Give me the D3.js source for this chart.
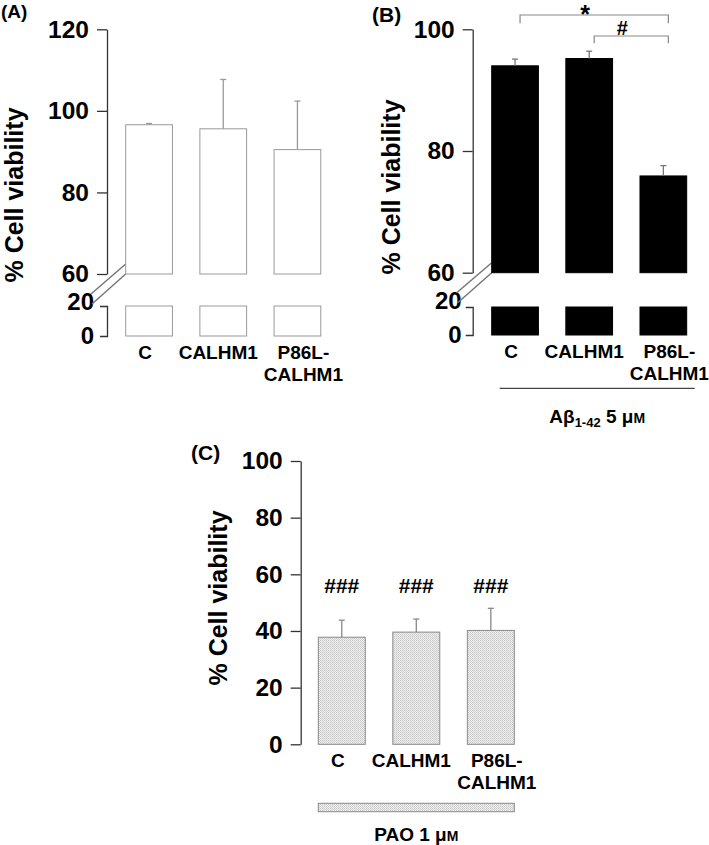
<!DOCTYPE html>
<meta charset="utf-8">
<style>
body { margin: 0; background: #fff; }
svg text { font-family: "Liberation Sans", Arial, sans-serif; font-weight: bold; fill: #000; }
</style>
<svg width="709" height="845"></svg>
<script src="https://cdnjs.cloudflare.com/ajax/libs/d3/7.8.5/d3.min.js"></script>
<script>

// groups and values
var categories = ["C", "CALHM1", "P86L-CALHM1"];
var labelLines = [["C"], ["CALHM1"], ["P86L-", "CALHM1"]];

var meansA = [96.6, 95.6, 90.5];
var sdA = [0.3, 12.1, 11.9];
var meansB = [94.0, 95.2, 75.9];
var sdB = [1.1, 1.2, 1.7];
var meansC = [37.8, 39.6, 40.2];
var sdC = [6.0, 4.6, 7.8];

var ticksA = [60, 80, 100, 120];
var ticksB = [60, 80, 100];
var ticksC = [0, 20, 40, 60, 80, 100];
var lowerTicks = [0, 20];

var svg = d3.select("svg");

// dotted fill for panel C
var defs = svg.append("defs");
var pat = defs.append("pattern")
    .attr("id", "dots")
    .attr("width", 2).attr("height", 2)
    .attr("patternUnits", "userSpaceOnUse");
pat.append("rect").attr("width", 2).attr("height", 2).attr("fill", "#efefef");
pat.append("rect").attr("width", 1).attr("height", 1).attr("fill", "#c6c6c6");
pat.append("rect").attr("x", 1).attr("y", 1).attr("width", 1).attr("height", 1).attr("fill", "#d2d2d2");

var labelDx = [-4, -5, 6];

function styleAxis(g, size) {
  g.attr("font-size", null).attr("font-family", null);
  g.selectAll("path, line").attr("stroke", "#333").attr("stroke-width", 1.3);
  g.selectAll("text").style("font-size", size + "px").attr("fill", "#000");
}

function drawPanel(p) {
  var x = d3.scaleBand()
      .domain(categories)
      .range(p.band)
      .paddingInner(0.37)
      .paddingOuter(0);

  var y = d3.scaleLinear().domain(p.domain).range(p.range);
  var base = p.domain[0];

  var g = svg.append("g");

  // main axis
  g.append("g")
      .attr("transform", "translate(" + p.axisX + ",0)")
      .call(d3.axisLeft(y).tickValues(p.ticks).tickSize(10).tickSizeOuter(0).tickPadding(8).tickFormat(d3.format("d")))
      .call(styleAxis, 24.5);

  var bottom = y(base);

  // lower segment for broken axes
  if (p.lower) {
    var yl = d3.scaleLinear().domain(p.lower.domain).range(p.lower.range);
    bottom = yl(0);
    var la = g.append("g")
        .attr("transform", "translate(" + p.axisX + ",0)")
        .call(d3.axisLeft(yl).tickValues(lowerTicks).tickSizeInner(0).tickSizeOuter(7).tickPadding(p.lower.pad).tickFormat(d3.format("d")))
        .call(styleAxis, 24);
    // the "20" sits just under the break
    la.selectAll(".tick text")
        .attr("y", function(d) { return d == 20 ? p.breakLabelY - yl(20) : 0; })
        .attr("dy", function(d) { return d == 20 ? 0 : "0.32em"; });

    g.selectAll(".lowbar")
      .data(categories)
      .enter().append("rect")
        .attr("x", function(d) { return x(d); })
        .attr("width", x.bandwidth())
        .attr("y", yl(20))
        .attr("height", yl(0) - yl(20))
        .attr("fill", p.fill)
        .attr("stroke", p.stroke)
        .attr("stroke-width", 1);

    // break marks
    var x0 = x(categories[0]);
    [[30, 0], [20, -10]].forEach(function(o, i) {
      g.append("line")
          .attr("x1", p.axisX - 15 - i).attr("y1", y(base) + o[0])
          .attr("x2", x0).attr("y2", y(base) + o[1])
          .attr("stroke", "#777")
          .attr("stroke-width", 1.5);
    });
  }

  // bars
  g.selectAll(".bar")
    .data(p.means)
    .enter().append("rect")
      .attr("x", function(d, i) { return x(categories[i]); })
      .attr("width", x.bandwidth())
      .attr("y", function(d) { return y(d); })
      .attr("height", function(d) { return y(base) - y(d); })
      .attr("fill", p.fill)
      .attr("stroke", p.stroke)
      .attr("stroke-width", 1);

  // error bars (upper only)
  p.means.forEach(function(m, i) {
    var cx = x(categories[i]) + x.bandwidth() / 2;
    var top = y(m + p.sds[i]);
    g.append("line")
        .attr("x1", cx).attr("x2", cx)
        .attr("y1", y(m)).attr("y2", top)
        .attr("stroke", p.errColor).attr("stroke-width", 1.3);
    g.append("line")
        .attr("x1", cx - 3).attr("x2", cx + 3)
        .attr("y1", top).attr("y2", top)
        .attr("stroke", p.errColor).attr("stroke-width", 1.3);
  });

  // category labels
  labelLines.forEach(function(lines, i) {
    var t = g.append("text")
        .attr("text-anchor", "middle")
        .style("font-size", "19px");
    lines.forEach(function(s, j) {
      t.append("tspan")
          .attr("x", x(categories[i]) + x.bandwidth() / 2 + labelDx[i])
          .attr("y", bottom + 22.5 + j * 22)
          .text(s);
    });
  });

  // y axis title
  g.append("text")
      .attr("transform", "translate(" + p.titleX + "," + p.titleY + ") rotate(-90)")
      .attr("text-anchor", "middle")
      .style("font-size", "25px")
      .text("% Cell viability");

  // panel letter
  g.append("text")
      .attr("x", p.letterPos[0])
      .attr("y", p.letterPos[1])
      .style("font-size", p.letterSize + "px")
      .text(p.letter);

  return { x: x, y: y, g: g };
}

var A = drawPanel({
  means: meansA, sds: sdA, ticks: ticksA,
  domain: [60, 120], range: [274, 29.3],
  lower: { domain: [0, 20], range: [336, 306], pad: 13 }, breakLabelY: 309,
  axisX: 107, band: [125.7, 320.8],
  fill: "#fff", stroke: "#999", errColor: "#999",
  titleX: 23, titleY: 195, letter: "(A)", letterPos: [1, 18], letterSize: 19
});

var B = drawPanel({
  means: meansB, sds: sdB, ticks: ticksB,
  domain: [60, 100], range: [272.7, 29.3],
  lower: { domain: [0, 20], range: [335, 307], pad: 11 }, breakLabelY: 308.5,
  axisX: 472.7, band: [491.7, 686.7],
  fill: "#000", stroke: "#000", errColor: "#777",
  titleX: 400, titleY: 187, letter: "(B)", letterPos: [372, 22], letterSize: 21
});

var C = drawPanel({
  means: meansC, sds: sdC, ticks: ticksC,
  domain: [0, 100], range: [744.3, 461],
  axisX: 300.7, band: [318.3, 514.3],
  fill: "url(#dots)", stroke: "#888", errColor: "#888",
  titleX: 227, titleY: 598, letter: "(C)", letterPos: [191, 460], letterSize: 21
});

// significance brackets in B
function center(s, c) { return s.x(c) + s.x.bandwidth() / 2 + 5; }
var sig = [
  { from: "C", to: "P86L-CALHM1", top: 15, drop: 8.3, mark: "*", size: 25, ty: 23 },
  { from: "CALHM1", to: "P86L-CALHM1", top: 36, drop: 7.3, mark: "#", size: 20, ty: 35 }
];
sig.forEach(function(s) {
  var x1 = center(B, s.from), x2 = center(B, s.to);
  B.g.append("path")
      .attr("d", "M" + x1 + "," + (s.top + s.drop) + "V" + s.top + "H" + x2 + "V" + (s.top + s.drop))
      .attr("fill", "none")
      .attr("stroke", "#888")
      .attr("stroke-width", 1.2);
  B.g.append("text")
      .attr("x", (x1 + x2) / 2 - 9)
      .attr("y", s.ty)
      .attr("text-anchor", "middle")
      .style("font-size", s.size + "px")
      .text(s.mark);
});

// treatment line under B
var bx0 = B.x("C") + 8, bx1 = B.x("P86L-CALHM1") + B.x.bandwidth() + 8;
B.g.append("line")
    .attr("x1", bx0).attr("x2", bx1)
    .attr("y1", 388.3).attr("y2", 388.3)
    .attr("stroke", "#444").attr("stroke-width", 1.2);
var tb = B.g.append("text")
    .attr("x", (bx0 + bx1) / 2)
    .attr("y", 423)
    .attr("text-anchor", "middle")
    .style("font-size", "19px");
tb.append("tspan").text("A\u03b2");
tb.append("tspan").attr("dy", 4).style("font-size", "13px").text("1-42");
tb.append("tspan").attr("dy", -4).text(" 5 \u03bc");
tb.append("tspan").style("font-size", "14px").text("M");

// ### marks over C bars
C.g.selectAll(".hash")
  .data(categories)
  .enter().append("text")
    .attr("x", function(d) { return C.x(d) + C.x.bandwidth() / 2; })
    .attr("y", C.y(53.4))
    .attr("text-anchor", "middle")
    .style("font-size", "21px")
    .text("###");

// treatment bar under C
var cx0 = C.x("C"), cx1 = C.x("P86L-CALHM1") + C.x.bandwidth();
C.g.append("rect")
    .attr("x", cx0).attr("y", 803.3)
    .attr("width", cx1 - cx0).attr("height", 8.4)
    .attr("fill", "url(#dots)")
    .attr("stroke", "#888").attr("stroke-width", 1);
var tc = C.g.append("text")
    .attr("x", (cx0 + cx1) / 2)
    .attr("y", 841)
    .attr("text-anchor", "middle")
    .style("font-size", "19px");
tc.append("tspan").text("PAO 1 \u03bc");
tc.append("tspan").style("font-size", "14px").text("M");

</script>
